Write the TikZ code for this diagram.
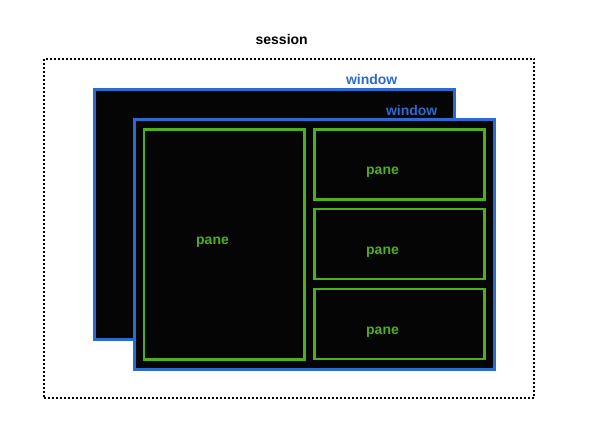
\documentclass[tikz,border=0pt]{standalone}
\usepackage{fontspec}
\setmainfont{Liberation Sans}
\usepackage{xcolor}
\usetikzlibrary{positioning,calc}
\definecolor{WinBlue}{HTML}{2A6BD0}
\definecolor{PaneGreen}{HTML}{4FAE1E}
\definecolor{ScreenBlack}{HTML}{050505}
\newcommand{\lbl}[1]{{\fontsize{14}{16}\selectfont\bfseries #1}}

\begin{document}
\begin{tikzpicture}[x=1pt,y=1pt,
  sessbox/.style={draw=black,dash pattern=on 2pt off 2pt,line width=2pt,minimum width=490pt,minimum height=339.5pt,inner sep=0pt},
  winbox/.style={draw=WinBlue,fill=ScreenBlack,line width=3pt,minimum width=360pt,minimum height=250pt,inner sep=0pt},
  panebox/.style={draw=PaneGreen,line width=2.7pt,inner sep=0pt},
  wintext/.style={text=WinBlue,anchor=base,inner sep=0pt},
  panetext/.style={text=PaneGreen,anchor=base,inner sep=0pt}]
  \useasboundingbox (0,0) rectangle (598,439);
  % session and its two windows
  \node[sessbox] (session) at (289,210.3) {};
  \node[anchor=base,inner sep=0pt] (sesslabel) at (281.7,394) {\lbl{session}};
  \node[winbox] (winback) at (274.3,224.8) {};
  \node[wintext] (backlabel) at (371.7,354) {\lbl{window}};
  \node[winbox] (winfront) at (314.2,194.7) {};
  \node[wintext] (frontlabel) at (411.7,323.8) {\lbl{window}};
  % panes of the front window
  \node[panebox,minimum width=160.3pt,minimum height=230.4pt] (paneleft) at (224.2,194.5) {};
  \node[panebox,minimum width=170.4pt,minimum height=70pt] (panetop) at (399.5,274.7) {};
  \node[panebox,minimum width=170.4pt,minimum height=70pt] (panemid) at (399.5,195) {};
  \node[panebox,minimum width=170.4pt,minimum height=70pt] (panebot) at (399.5,115) {};
  \node[panetext] (leftlabel) at (212.5,194) {\lbl{pane}};
  \node[panetext] (toplabel) at (382.5,264.5) {\lbl{pane}};
  \node[panetext] (midlabel) at (382.5,184) {\lbl{pane}};
  \node[panetext] (botlabel) at (382.5,104) {\lbl{pane}};
\end{tikzpicture}
\end{document}
